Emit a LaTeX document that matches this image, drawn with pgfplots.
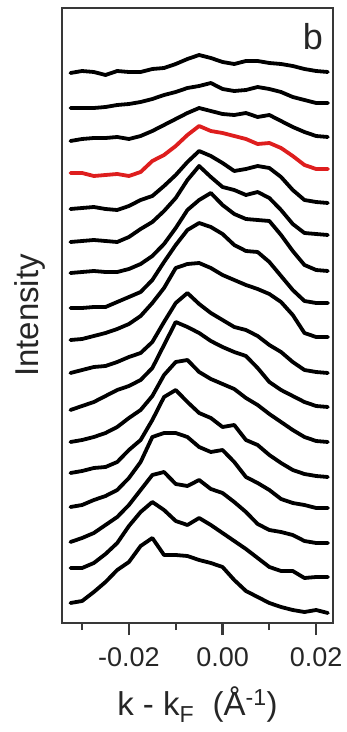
\documentclass[border=0pt]{standalone}
\usepackage{fontspec}
\setmainfont{Liberation Sans}
\usepackage{pgfplots}
\usepackage{pgfplotstable}
\pgfplotsset{compat=1.18}

\definecolor{framegray}{gray}{0.22}
\definecolor{mdcred}{RGB}{222,30,30}

% Stacked momentum distribution curves (offsets already included)
\pgfplotstableread{
k       s1  s2  s3  s4  s5  s6  s7  s8  s9  s10 s11 s12 s13 s14 s15 s16 s17
-0.0325 567 532 499 467 431 398 367 332 300 267 230 198 167 133 98  72  37
-0.0300 569 532 501 467 432 399 368 332 301 270 234 200 169 135 102 72  39
-0.0275 568 532 502 464 433 400 369 333 304 273 238 203 172 140 107 77  48
-0.0250 565 533 502 465 431 399 368 333 307 274 244 207 173 144 115 86  58
-0.0225 569 535 503 466 430 398 368 338 311 278 250 213 178 150 123 97  70
-0.0200 568 536 501 464 434 403 371 343 316 283 254 222 190 162 135 114 78
-0.0175 568 538 504 468 440 411 376 348 324 287 260 230 200 178 150 128 94
-0.0150 571 541 509 479 444 418 384 360 337 298 272 244 220 203 165 138 102
-0.0125 572 545 515 485 454 429 396 378 352 318 295 265 243 207 168 130 85
-0.0100 576 548 521 494 465 442 412 395 372 337 318 278 250 207 156 119 85
-0.0075 581 552 527 505 478 460 430 410 376 347 313 280 238 203 154 115 84
-0.0050 585 554 532 514 489 474 440 417 377 336 307 268 227 193 160 122 80
-0.0025 582 557 529 509 484 463 447 413 372 327 299 261 222 188 151 115 77
 0.0000 578 551 526 507 477 453 435 406 365 320 293 256 213 190 147 107 73
 0.0025 576 549 525 504 469 450 426 395 360 313 288 251 215 178 138 99  60
 0.0050 579 550 527 501 471 445 421 389 355 310 284 242 200 163 128 91  49
 0.0075 579 553 523 496 474 448 420 388 351 304 272 235 195 157 116 82  43
 0.0100 577 551 525 497 472 442 419 378 346 295 258 226 185 150 110 73  37
 0.0125 576 548 519 492 463 430 405 364 338 288 250 218 177 141 108 69  33
 0.0150 574 543 513 484 450 416 389 350 325 278 244 210 170 137 105 69  30
 0.0175 571 540 508 475 440 407 375 339 307 270 238 203 166 135 99  62  28
 0.0200 569 537 504 471 438 406 370 337 303 268 234 199 164 132 97  63  30
 0.0225 568 537 503 471 437 405 369 337 303 267 233 198 163 132 97  63  27
}\mdcdata

\begin{document}
\begin{tikzpicture}
\begin{axis}[
  name=ax,
  scale only axis,
  width=271pt, height=615pt,
  xmin=-0.0343, xmax=0.0236,
  ymin=17, ymax=632,
  axis line style={framegray, line width=2.2pt},
  xtick={-0.02,0,0.02},
  xticklabels={-0.02,0.00,0.02},
  scaled x ticks=false,
  minor xtick={-0.03,-0.01,0.01},
  ytick=\empty,
  xtick pos=lower,
  tick align=outside,
  major tick length=12pt,
  minor tick length=7pt,
  every tick/.append style={framegray, line width=2.2pt},
  xticklabel style={font=\fontsize{27}{27}\selectfont, text=black!85, yshift=-9pt},
  xlabel={k - k\textsubscript{F}\ \ (Å\textsuperscript{-1})},
  xlabel style={font=\fontsize{33}{33}\selectfont, text=black!85,
                at={(rel axis cs:0.5,-0.1496)}, anchor=base},
  ylabel={Intensity},
  ylabel style={font=\fontsize{33}{33}\selectfont, text=black!85,
                at={(rel axis cs:-0.118,0.5)}, anchor=center},
  every axis plot/.append style={line width=3.8pt, line join=round, line cap=round},
]
\pgfplotsinvokeforeach{1,2,3,5,6,7,8,9,10,11,12,13,14,15,16,17}{
  \addplot[black] table[x=k, y=s#1] {\mdcdata};
}
\addplot[mdcred] table[x=k, y=s4] {\mdcdata};
\node[font=\fontsize{36}{36}\selectfont, text=black!85] at (rel axis cs:0.926,0.953) {b};
\end{axis}
\pgfresetboundingbox
\path ([shift={(-62pt,-109pt)}]ax.south west) rectangle ([shift={(14pt,8pt)}]ax.north east);
\end{tikzpicture}
\end{document}
